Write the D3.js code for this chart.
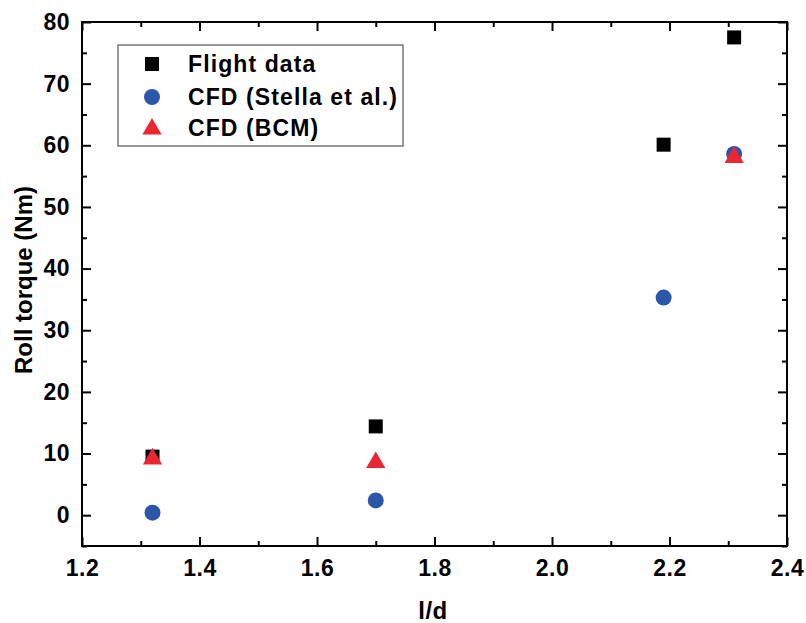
<!DOCTYPE html>
<html><head><meta charset="utf-8">
<script src="https://cdn.jsdelivr.net/npm/d3@7"></script>
<style>body{margin:0;background:#fff}svg{display:block}text{font-family:Arial,"Liberation Sans",sans-serif;font-weight:bold;fill:#000}</style>
</head><body><svg id="c" width="806" height="623"></svg>
<script>
const flightX = [1.32, 1.70, 2.19, 2.31];
const flightY = [9.5, 14.4, 60.1, 77.5];
const stellaX = [1.32, 1.70, 2.19, 2.31];
const stellaY = [0.4, 2.4, 35.3, 58.6];
const bcmX = [1.32, 1.70, 2.31];
const bcmY = [9.3, 8.7, 58.2];
const xTicks = [1.2, 1.4, 1.6, 1.8, 2.0, 2.2, 2.4];
const yTicks = [0, 10, 20, 30, 40, 50, 60, 70, 80];
const seriesNames = ["Flight data", "CFD (Stella et al.)", "CFD (BCM)"];

const svg = d3.select("#c");
const L = 82, R = 787, T = 22, B = 546;
const x = d3.scaleLinear().domain([1.2, 2.4]).range([L, R]);
const y = d3.scaleLinear().domain([-5, 80]).range([B, T]);

const xMinor = d3.range(1.3, 2.4, 0.2);
const yMinor = d3.range(-5, 80, 10);

function ticks(g, axisFn, scale, major, minor, labels, pad) {
  const a = axisFn(scale).tickValues(major).tickSizeInner(-9).tickSizeOuter(0).tickPadding(pad);
  if (!labels) a.tickFormat("");
  else a.tickFormat(d => major === yTicks ? d : d3.format(".1f")(d));
  g.call(a);
  const m = axisFn(scale).tickValues(minor).tickSizeInner(-5).tickSizeOuter(0).tickFormat("");
  g.append("g").call(m);
  g.selectAll(".domain").remove();
  g.selectAll("line").attr("stroke", "#000").attr("stroke-width", 2);
  g.selectAll("text").style("font-size", "23px").style("letter-spacing", "0.5px");
}
ticks(svg.append("g").attr("transform", `translate(0,${B})`), d3.axisBottom, x, xTicks, xMinor, true, 14);
ticks(svg.append("g").attr("transform", `translate(0,${T})`), d3.axisTop, x, xTicks, xMinor, false, 14);
ticks(svg.append("g").attr("transform", `translate(${L},0)`), d3.axisLeft, y, yTicks, yMinor, true, 12);
ticks(svg.append("g").attr("transform", `translate(${R},0)`), d3.axisRight, y, yTicks, yMinor, false, 12);

svg.append("rect").attr("x", L).attr("y", T).attr("width", R - L).attr("height", B - T)
  .attr("fill", "none").attr("stroke", "#000").attr("stroke-width", 2);

const blue = "#2a57a8", red = "#eb2630";
const sq = d3.symbol().type(d3.symbolSquare).size(196);
const ci = d3.symbol().type(d3.symbolCircle).size(201);
const tr = d3.symbol().type(d3.symbolTriangle).size(160);

svg.append("g").selectAll("path").data(flightX).join("path")
  .attr("d", sq).attr("fill", "#000")
  .attr("transform", (d, i) => `translate(${x(d)},${y(flightY[i])})`);
svg.append("g").selectAll("path").data(stellaX).join("path")
  .attr("d", ci).attr("fill", blue)
  .attr("transform", (d, i) => `translate(${x(d)},${y(stellaY[i])})`);
svg.append("g").selectAll("path").data(bcmX).join("path")
  .attr("d", tr).attr("fill", red)
  .attr("transform", (d, i) => `translate(${x(d)},${y(bcmY[i]) + 1})`);

// legend
const lg = svg.append("g");
lg.append("rect").attr("x", 118).attr("y", 45).attr("width", 285).attr("height", 101)
  .attr("fill", "#fff").attr("stroke", "#777").attr("stroke-width", 1.5);
const syms = [[sq, "#000"], [ci, blue], [tr, red]];
const ly = [64, 97, 128];
seriesNames.forEach((n, i) => {
  lg.append("path").attr("d", syms[i][0]).attr("fill", syms[i][1])
    .attr("transform", `translate(152,${ly[i] + (i === 2 ? 1 : 0)})`);
  lg.append("text").attr("x", 188).attr("y", ly[i]).attr("dy", "0.36em")
    .style("font-size", "23px").style("letter-spacing", "1.1px").text(n);
});

svg.append("text").attr("x", 433).attr("y", 619).attr("text-anchor", "middle")
  .style("font-size", "24px").style("letter-spacing", "0.5px").text("l/d");
svg.append("text").attr("transform", `translate(32,280) rotate(-90)`)
  .attr("text-anchor", "middle").style("font-size", "24px").text("Roll torque (Nm)");
</script></body></html>
